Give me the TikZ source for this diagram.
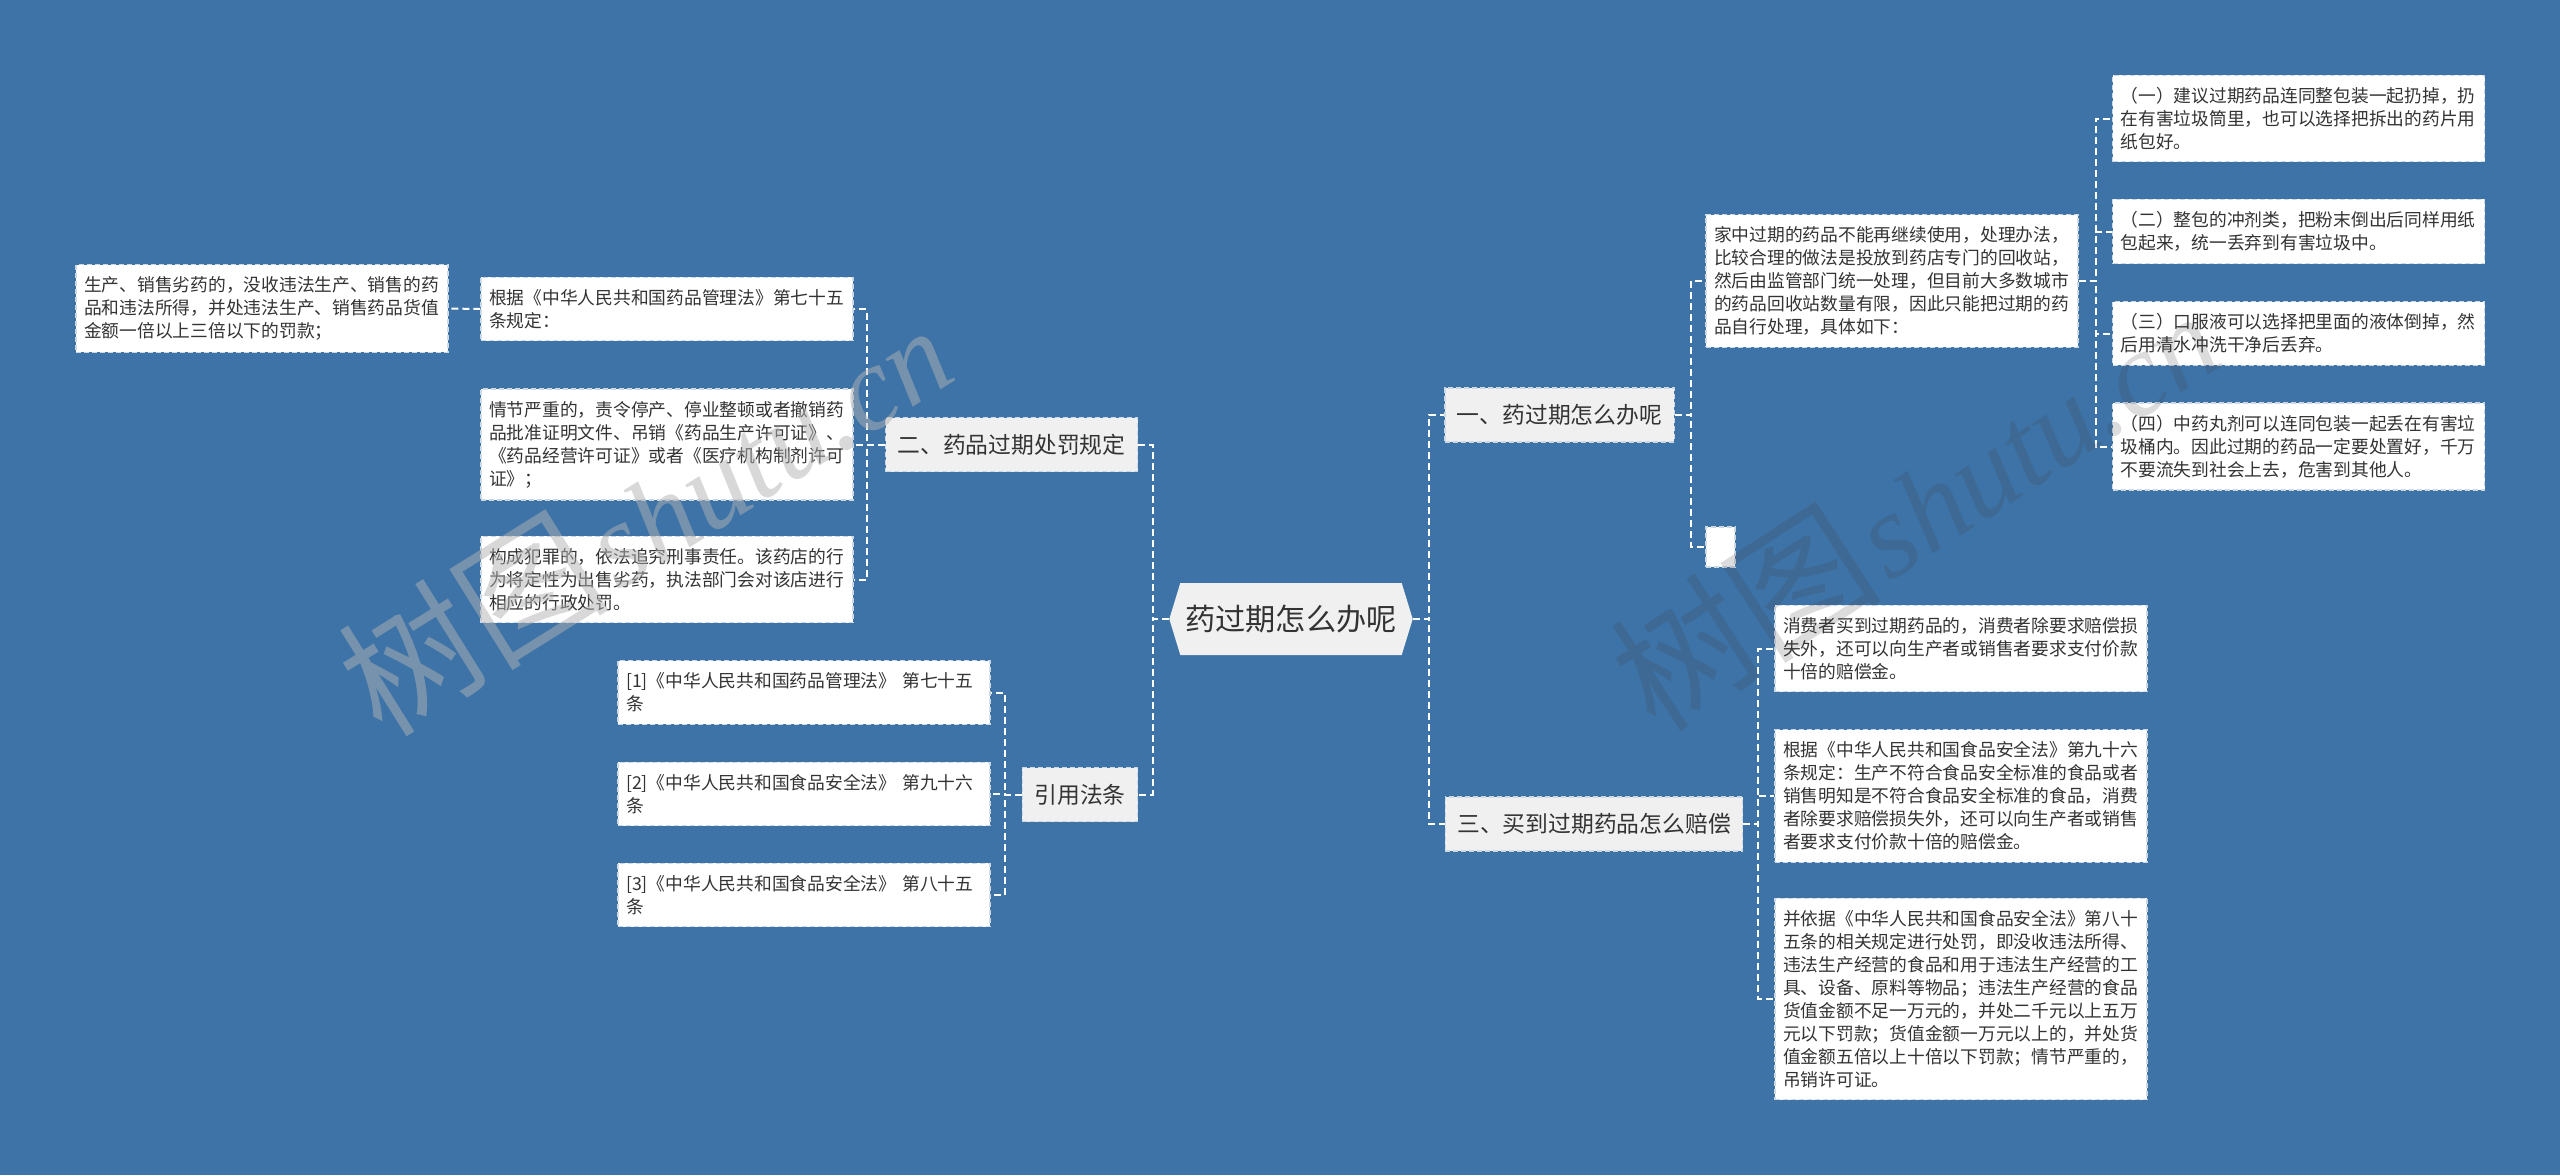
\documentclass[tikz,border=0pt]{standalone}
\usepackage{fontspec}
\usepackage{xcolor}
\usetikzlibrary{shapes.symbols}
\newfontfamily\cjk{Noto Sans CJK SC}
\newfontfamily\wmlatin{Liberation Serif}
\definecolor{hintergrund}{RGB}{61,115,167}
\definecolor{boxrand}{RGB}{205,216,229}
\definecolor{themagrau}{RGB}{240,240,240}
\definecolor{schrift}{RGB}{51,51,51}

\begin{document}
\begin{tikzpicture}[x=0.5pt, y=-0.5pt,
  blatt/.style={fill=white, draw=boxrand, line width=0.6pt, dash pattern=on 2.5pt off 1.5pt,
    text=schrift, font=\cjk\fontsize{8.875pt}{11.5pt}\selectfont, align=left,
    text width=178pt, inner xsep=4pt, inner ysep=6pt},
  thema/.style={fill=themagrau, draw=boxrand, line width=0.6pt, dash pattern=on 2.5pt off 1.5pt,
    text=schrift, font=\cjk\fontsize{11.4pt}{13pt}\selectfont,
    inner xsep=6pt, inner ysep=0pt, minimum height=27pt},
  wurzel/.style={signal, signal to=west and east, signal pointer angle=146,
    fill=themagrau, text=schrift, font=\cjk\fontsize{15.1pt}{17pt}\selectfont,
    inner xsep=2.5pt, inner ysep=0pt, minimum height=36pt},
  ast/.style={draw=white, line width=1pt, dash pattern=on 3.5pt off 2pt},
  wasserhell/.style={rotate=32, text=gray!60, text opacity=0.5},
  wasserdunkel/.style={rotate=33, text=black!75, text opacity=0.18}
]
\newcommand{\wasserzeichen}{{\cjk\fontsize{68pt}{70pt}\selectfont 树图}~{\wmlatin\itshape\fontsize{60pt}{62pt}\selectfont shutu.cn}}

% Hintergrund
\fill[hintergrund] (0,0) rectangle (2560,1175);

% =========================================================
% Wurzel
% =========================================================
\node[wurzel] (wurzel) at (1291,619) {药过期怎么办呢};

% =========================================================
% linke Seite
% =========================================================
\node[thema] (zwei) at (1011.5,444.5) {二、药品过期处罚规定};
\node[thema] (gesetz) at (1080,794.5) {引用法条};

% Blaetter von zwei
\node[blatt] (z1) at (667,309) {根据《中华人民共和国药品管理法》第七十五\\条规定：};
\node[blatt] (z2) at (667,444.5) {情节严重的，责令停产、停业整顿或者撤销药\\品批准证明文件、吊销《药品生产许可证》、\\《药品经营许可证》或者《医疗机构制剂许可\\证》；};
\node[blatt] (z3) at (667,579.5) {构成犯罪的，依法追究刑事责任。该药店的行\\为将定性为出售劣药，执法部门会对该店进行\\相应的行政处罚。};
\node[blatt] (z0) at (262,308.5) {生产、销售劣药的，没收违法生产、销售的药\\品和违法所得，并处违法生产、销售药品货值\\金额一倍以上三倍以下的罚款；};

% Blaetter von gesetz
\node[blatt] (g1) at (804,692.5) {[1]《中华人民共和国药品管理法》~第七十五\\条};
\node[blatt] (g2) at (804,794) {[2]《中华人民共和国食品安全法》~第九十六\\条};
\node[blatt] (g3) at (804,895) {[3]《中华人民共和国食品安全法》~第八十五\\条};

% =========================================================
% rechte Seite
% =========================================================
\node[thema] (eins) at (1559.5,415) {一、药过期怎么办呢};
\node[thema] (drei) at (1594,824) {三、买到过期药品怎么赔偿};

% Blaetter von eins
\node[blatt] (e0) at (1892,281) {家中过期的药品不能再继续使用，处理办法，\\比较合理的做法是投放到药店专门的回收站，\\然后由监管部门统一处理，但目前大多数城市\\的药品回收站数量有限，因此只能把过期的药\\品自行处理，具体如下：};
\node[fill=white, draw=boxrand, line width=0.6pt, dash pattern=on 2.5pt off 1.5pt,
  minimum width=14.5pt, minimum height=20pt, inner sep=0pt] (leer) at (1720.5,547) {};

\node[blatt] (e1) at (2298.5,118.5) {（一）建议过期药品连同整包装一起扔掉，扔\\在有害垃圾筒里，也可以选择把拆出的药片用\\纸包好。};
\node[blatt] (e2) at (2298.5,231.5) {（二）整包的冲剂类，把粉末倒出后同样用纸\\包起来，统一丢弃到有害垃圾中。};
\node[blatt] (e3) at (2298.5,333.5) {（三）口服液可以选择把里面的液体倒掉，然\\后用清水冲洗干净后丢弃。};
\node[blatt] (e4) at (2298.5,446.5) {（四）中药丸剂可以连同包装一起丢在有害垃\\圾桶内。因此过期的药品一定要处置好，千万\\不要流失到社会上去，危害到其他人。};

% Blaetter von drei
\node[blatt] (d1) at (1961,648.5) {消费者买到过期药品的，消费者除要求赔偿损\\失外，还可以向生产者或销售者要求支付价款\\十倍的赔偿金。};
\node[blatt] (d2) at (1961,796) {根据《中华人民共和国食品安全法》第九十六\\条规定：生产不符合食品安全标准的食品或者\\销售明知是不符合食品安全标准的食品，消费\\者除要求赔偿损失外，还可以向生产者或销售\\者要求支付价款十倍的赔偿金。};
\node[blatt] (d3) at (1961,999) {并依据《中华人民共和国食品安全法》第八十\\五条的相关规定进行处罚，即没收违法所得、\\违法生产经营的食品和用于违法生产经营的工\\具、设备、原料等物品；违法生产经营的食品\\货值金额不足一万元的，并处二千元以上五万\\元以下罚款；货值金额一万元以上的，并处货\\值金额五倍以上十倍以下罚款；情节严重的，\\吊销许可证。};

% =========================================================
% Verbindungen
% =========================================================
\draw[ast] (wurzel.west) -- ++(-16,0) |- (zwei.east);
\draw[ast] (wurzel.west) -- ++(-16,0) |- (gesetz.east);
\draw[ast] (wurzel.east) -- ++(16,0) |- (eins.west);
\draw[ast] (wurzel.east) -- ++(16,0) |- (drei.west);

\draw[ast] (zwei.west) -- ++(-18,0) |- (z1.east);
\draw[ast] (zwei.west) -- ++(-18,0) |- (z2.east);
\draw[ast] (zwei.west) -- ++(-18,0) |- (z3.east);
\draw[ast] (z1.west) -- (z0.east);

\draw[ast] (gesetz.west) -- ++(-17,0) |- (g1.east);
\draw[ast] (gesetz.west) -- ++(-17,0) |- (g2.east);
\draw[ast] (gesetz.west) -- ++(-17,0) |- (g3.east);

\draw[ast] (eins.east) -- ++(16,0) |- (e0.west);
\draw[ast] (eins.east) -- ++(16,0) |- (leer.west);
\draw[ast] (e0.east) -- ++(17,0) |- (e1.west);
\draw[ast] (e0.east) -- ++(17,0) |- (e2.west);
\draw[ast] (e0.east) -- ++(17,0) |- (e3.west);
\draw[ast] (e0.east) -- ++(17,0) |- (e4.west);

\draw[ast] (drei.east) -- ++(15,0) |- (d1.west);
\draw[ast] (drei.east) -- ++(15,0) |- (d2.west);
\draw[ast] (drei.east) -- ++(15,0) |- (d3.west);

% Wasserzeichen
\node[wasserhell] (wmlinks) at (644,515) {\wasserzeichen};
\node[wasserdunkel] (wmrechts) at (1914,505) {\wasserzeichen};

\end{tikzpicture}
\end{document}
